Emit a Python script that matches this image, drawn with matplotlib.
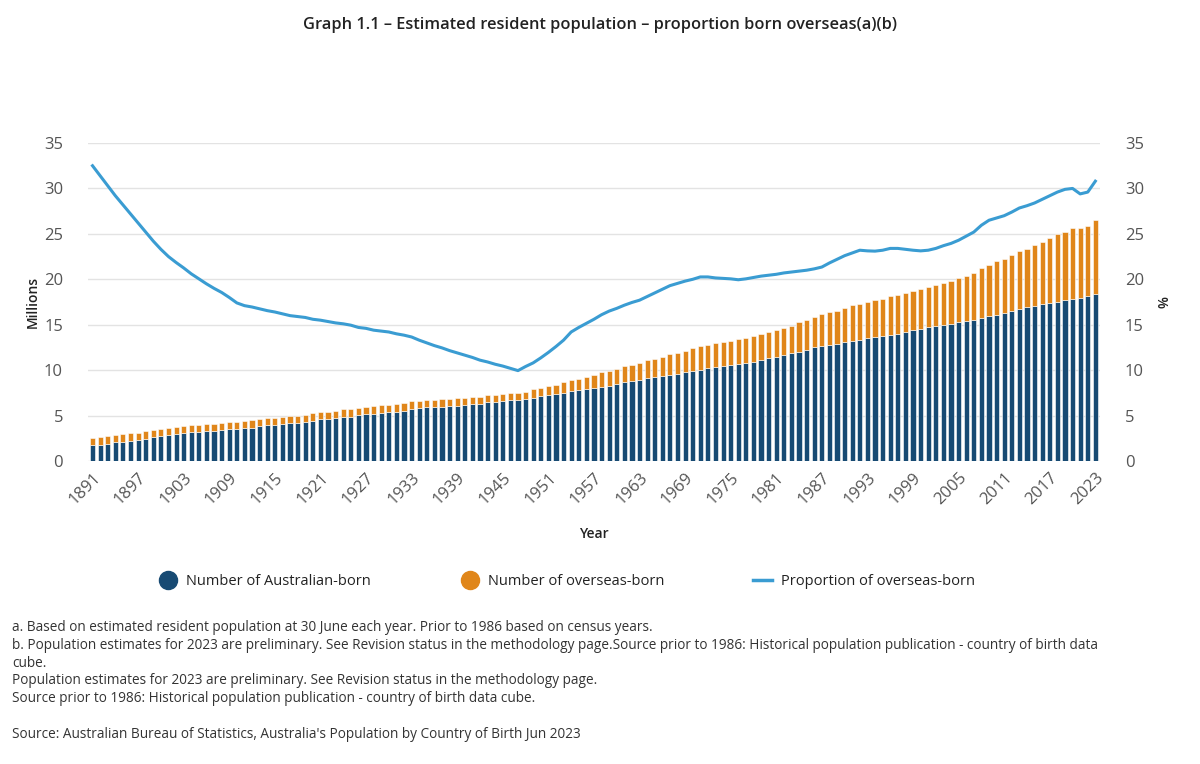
import matplotlib
matplotlib.use("Agg")
import matplotlib.pyplot as plt
from matplotlib.lines import Line2D
import numpy as np

plt.rcParams["font.family"] = ["Open Sans", "DejaVu Sans"]

years = list(range(1891, 2024))

# millions
australian_born = [
    1.80, 1.80, 1.91, 2.06, 2.06, 2.20, 2.32, 2.46, 2.65, 2.76, 2.87, 3.01, 3.09, 3.20, 3.20, 3.31, 3.31,
    3.42, 3.57, 3.57, 3.68, 3.68, 3.82, 3.93, 3.93, 4.04, 4.23, 4.23, 4.34, 4.45, 4.60, 4.60, 4.71,
    4.87, 4.87, 5.02, 5.13, 5.13, 5.27, 5.38, 5.38, 5.53, 5.68, 5.79, 5.90, 5.90, 5.97, 6.04, 6.04, 6.19,
    6.30, 6.30, 6.45, 6.45, 6.56, 6.74, 6.74, 6.85, 6.96, 7.11, 7.25, 7.40, 7.51, 7.69, 7.80, 7.91, 8.06,
    8.20, 8.30, 8.46, 8.72, 8.83, 8.97, 9.12, 9.27, 9.41, 9.52, 9.63, 9.78, 9.93, 10.07, 10.22, 10.33,
    10.44, 10.59, 10.70, 10.84, 10.95, 11.14, 11.39, 11.50, 11.65, 11.87, 12.01, 12.27, 12.53, 12.71,
    12.82, 12.93, 13.11,
    13.22, 13.37, 13.52, 13.66, 13.81, 13.92, 14.03, 14.18, 14.43, 14.58, 14.73, 14.87, 15.02, 15.13,
    15.27, 15.42, 15.57, 15.79, 15.97, 16.12, 16.30, 16.48, 16.74, 16.92, 17.07, 17.25, 17.44, 17.55,
    17.77, 17.84, 17.99, 18.13, 18.39,
]
overseas_born = [
    0.77, 0.84, 0.81, 0.77, 0.86, 0.88, 0.80, 0.81, 0.77, 0.77, 0.81, 0.74, 0.73, 0.73, 0.73, 0.77, 0.77,
    0.81, 0.70, 0.73, 0.77, 0.81, 0.78, 0.78, 0.81, 0.81, 0.73, 0.73, 0.77, 0.81, 0.77, 0.80, 0.77,
    0.81, 0.88, 0.77, 0.77, 0.88, 0.88, 0.77, 0.88, 0.88, 0.88, 0.77, 0.80, 0.80, 0.84, 0.77, 0.88, 0.73,
    0.77, 0.77, 0.77, 0.77, 0.77, 0.70, 0.73, 0.77, 0.92, 0.91, 1.03, 1.02, 1.17, 1.21, 1.25, 1.39, 1.39,
    1.58, 1.59, 1.72, 1.72, 1.72, 1.87, 1.98, 1.98, 2.09, 2.24, 2.27, 2.38, 2.49, 2.60, 2.60, 2.64,
    2.64, 2.63, 2.78, 2.75, 2.79, 2.85, 2.86, 2.90, 3.00, 3.04, 3.30, 3.30, 3.29, 3.44, 3.55, 3.63, 3.78,
    3.96, 3.96, 3.95, 4.11, 4.07, 4.21, 4.25, 4.35, 4.25, 4.36, 4.46, 4.47, 4.58, 4.72, 4.88, 4.98,
    5.13, 5.42, 5.64, 5.86, 5.97, 6.23, 6.34, 6.41, 6.67, 6.89, 7.10, 7.40, 7.43, 7.76, 7.61, 7.77, 8.13,
]
# percent
proportion_overseas = [
    32.5, 31.4, 30.3, 29.2, 28.2, 27.2, 26.2, 25.2, 24.2, 23.3, 22.5, 21.85, 21.25, 20.6, 20.05, 19.5,
    19.0, 18.55, 18.0, 17.4, 17.1, 16.95, 16.75, 16.55, 16.4, 16.2, 16.0, 15.9, 15.8, 15.6, 15.5, 15.35,
    15.2,
    15.1, 14.95, 14.7, 14.6, 14.4, 14.3, 14.2, 14.0, 13.85, 13.65, 13.3, 13.0, 12.7, 12.45, 12.15, 11.9,
    11.65, 11.4, 11.1, 10.9, 10.65, 10.45, 10.2, 9.95, 10.4, 10.8, 11.35, 11.95, 12.6, 13.3, 14.2, 14.7,
    15.15, 15.6,
    16.1, 16.5, 16.8, 17.15, 17.45, 17.7, 18.1, 18.5, 18.9, 19.3, 19.55, 19.8, 20.0, 20.26, 20.26, 20.15,
    20.1, 20.05, 19.95, 20.05, 20.2, 20.35, 20.45, 20.55, 20.7, 20.8, 20.9, 21.0, 21.15, 21.35, 21.8,
    22.2, 22.6,
    22.9, 23.2, 23.13, 23.1, 23.2, 23.4, 23.4, 23.3, 23.2, 23.13, 23.2, 23.4, 23.7, 23.95, 24.3, 24.75,
    25.2, 25.95, 26.5, 26.75, 27.0, 27.4, 27.85, 28.1, 28.4, 28.8, 29.2, 29.6, 29.9, 30.0, 29.4, 29.6,
    30.8,
]

footnotes = [
    "a. Based on estimated resident population at 30 June each year. Prior to 1986 based on census years.",
    "b. Population estimates for 2023 are preliminary. See Revision status in the methodology page.Source prior to 1986: Historical population publication - country of birth data",
    "cube.",
    "Population estimates for 2023 are preliminary. See Revision status in the methodology page.",
    "Source prior to 1986: Historical population publication - country of birth data cube.",
]
source = "Source: Australian Bureau of Statistics, Australia's Population by Country of Birth Jun 2023"

c_aus = "#174a73"
c_os = "#e0861a"
c_line = "#3a9cd2"
c_tick = "#555555"

fig = plt.figure(figsize=(12, 7.64), dpi=100)
ax = fig.add_axes([0.0733, 0.3966, 0.8433, 0.4162])

x = np.arange(len(years))
aus = np.array(australian_born)
ovs = np.array(overseas_born)
ax.bar(x, aus, width=0.68, color=c_aus, edgecolor="white", linewidth=0.4, zorder=2)
ax.bar(x, ovs, width=0.68, bottom=aus, color=c_os, edgecolor="white", linewidth=0.4, zorder=2)

ax.set_xlim(-0.6, len(years) - 0.4)
ax.set_ylim(0, 35)
ax.set_yticks(range(0, 36, 5))
ax.grid(axis="y", color="#e3e3e3", linewidth=1, zorder=0)
ax.set_axisbelow(True)
for s in ax.spines.values():
    s.set_visible(False)

tick_pos = x[::6]
ax.set_xticks(tick_pos)
ax.set_xticklabels([str(years[i]) for i in tick_pos], rotation=45, ha="right",
                   rotation_mode="anchor", fontsize=12, color=c_tick)
ax.tick_params(axis="both", length=0, labelsize=12, labelcolor=c_tick)
ax.tick_params(axis="y", pad=18)
ax.tick_params(axis="x", pad=6)

ax2 = ax.twinx()
ax2.plot(x, proportion_overseas, color=c_line, linewidth=2.2, zorder=3)
ax2.set_ylim(0, 35)
ax2.set_yticks(range(0, 36, 5))
ax2.tick_params(axis="y", length=0, labelsize=12, labelcolor=c_tick, pad=18)
for s in ax2.spines.values():
    s.set_visible(False)

fig.text(0.027, 0.605, "Millions", rotation=90, ha="center", va="center",
         fontsize=10, fontweight="semibold", color="#222222")
fig.text(0.967, 0.605, "%", rotation=270, ha="center", va="center",
         fontsize=10, fontweight="semibold", color="#222222")
fig.text(0.495, 0.301, "Year", ha="center", va="center",
         fontsize=10, fontweight="semibold", color="#222222")

fig.text(0.5, 0.967, "Graph 1.1 \u2013 Estimated resident population \u2013 proportion born overseas(a)(b)",
         ha="center", va="center", fontsize=11.8, fontweight="semibold", color="#222222")

handles = [
    Line2D([], [], marker="o", linestyle="none", markersize=13, color=c_aus),
    Line2D([], [], marker="o", linestyle="none", markersize=13, color=c_os),
    Line2D([], [], color=c_line, linewidth=2.5),
]
labels = ["Number of Australian-born", "Number of overseas-born", "Proportion of overseas-born"]
fig.legend(handles, labels, loc="center", bbox_to_anchor=(0.4723, 0.239), ncol=3, frameon=False,
           fontsize=10.5, columnspacing=6.1, handlelength=1.3, handletextpad=0.6, labelcolor="#222222")

ys = [0.179, 0.155, 0.132, 0.109, 0.086]
for yy, t in zip(ys, footnotes):
    fig.text(0.01, yy, t, ha="left", va="center", fontsize=9.85, color="#333333")
fig.text(0.01, 0.039, source, ha="left", va="center", fontsize=9.85, color="#333333")

fig.savefig("out.png", dpi=100, facecolor="white")
